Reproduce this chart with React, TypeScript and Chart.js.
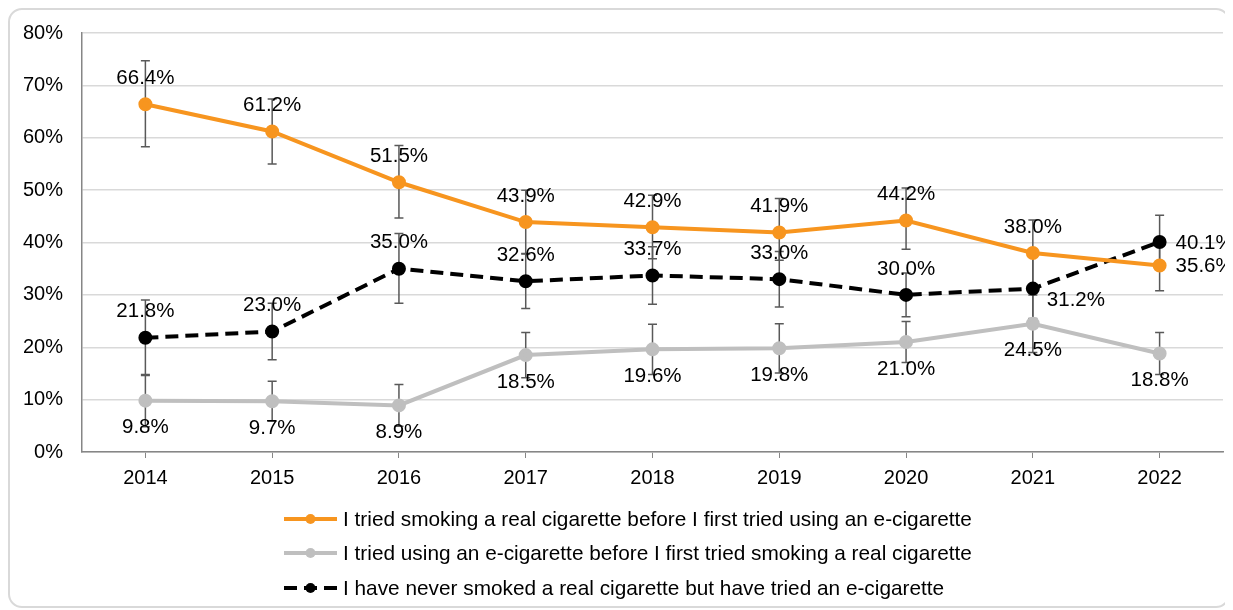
import React, { useEffect, useRef } from "react";
import { Chart, registerables } from "chart.js";

Chart.register(...registerables);

const years = ["2014", "2015", "2016", "2017", "2018", "2019", "2020", "2021", "2022"];

const realFirstLabel = "I tried smoking a real cigarette before I first tried using an e-cigarette";
const realFirst = [66.4, 61.2, 51.5, 43.9, 42.9, 41.9, 44.2, 38.0, 35.6];
const realFirstLow = [58.3, 55.0, 44.7, 37.9, 36.9, 36.6, 38.7, 31.7, 30.8];
const realFirstHigh = [74.7, 67.4, 58.5, 50.0, 49.0, 48.4, 50.4, 44.3, 40.4];
const realFirstPos = ["top", "top", "top", "top", "top", "top", "top", "top", "right"];

const ecigFirstLabel = "I tried using an e-cigarette before I first tried smoking a real cigarette";
const ecigFirst = [9.8, 9.7, 8.9, 18.5, 19.6, 19.8, 21.0, 24.5, 18.8];
const ecigFirstLow = [4.8, 5.9, 4.9, 14.2, 14.8, 15.1, 17.1, 19.0, 14.8];
const ecigFirstHigh = [14.8, 13.5, 12.9, 22.8, 24.4, 24.5, 24.9, 30.0, 22.8];
const ecigFirstPos = ["bottom", "bottom", "bottom", "bottom", "bottom", "bottom", "bottom", "bottom", "bottom"];

const neverLabel = "I have never smoked a real cigarette but have tried an e-cigarette";
const never = [21.8, 23.0, 35.0, 32.6, 33.7, 33.0, 30.0, 31.2, 40.1];
const neverLow = [14.6, 17.6, 28.4, 27.4, 28.2, 27.7, 25.8, 25.5, 35.0];
const neverHigh = [29.0, 28.4, 41.7, 37.8, 39.2, 38.3, 34.2, 37.2, 45.2];
const neverPos = ["top", "top", "top", "top", "top", "top", "top", "rightBelow", "right"];

const yTicks = [0, 10, 20, 30, 40, 50, 60, 70, 80];

const FONT = "'Liberation Sans', Arial, sans-serif";
const ORANGE = "#F7951F";
const GRAY = "#BFBFBF";
const BLACK = "#000000";

const lows = [realFirstLow, ecigFirstLow, neverLow];
const highs = [realFirstHigh, ecigFirstHigh, neverHigh];
const positions = [realFirstPos, ecigFirstPos, neverPos];

const errorBarPlugin = {
  id: "errorBars",
  beforeDatasetsDraw(chart: any) {
    const ctx = chart.ctx;
    const y = chart.scales.y;
    ctx.save();
    ctx.strokeStyle = "#595959";
    ctx.lineWidth = 1.5;
    chart.data.datasets.forEach((ds: any, di: number) => {
      const meta = chart.getDatasetMeta(di);
      meta.data.forEach((pt: any, i: number) => {
        const x = pt.x;
        const y1 = y.getPixelForValue(lows[di][i]);
        const y2 = y.getPixelForValue(highs[di][i]);
        ctx.beginPath();
        ctx.moveTo(x, y1);
        ctx.lineTo(x, y2);
        ctx.moveTo(x - 4.5, y1);
        ctx.lineTo(x + 4.5, y1);
        ctx.moveTo(x - 4.5, y2);
        ctx.lineTo(x + 4.5, y2);
        ctx.stroke();
      });
    });
    ctx.restore();
  },
};

const dataLabelPlugin = {
  id: "dataLabels",
  afterDatasetsDraw(chart: any) {
    const ctx = chart.ctx;
    ctx.save();
    ctx.font = `20.5px ${FONT}`;
    ctx.fillStyle = "#000";
    chart.data.datasets.forEach((ds: any, di: number) => {
      const meta = chart.getDatasetMeta(di);
      meta.data.forEach((pt: any, i: number) => {
        const txt = ds.data[i].toFixed(1) + "%";
        const pos = positions[di][i];
        ctx.textBaseline = "middle";
        if (pos === "top") {
          ctx.textAlign = "center";
          ctx.fillText(txt, pt.x, pt.y - 26);
        } else if (pos === "bottom") {
          ctx.textAlign = "center";
          ctx.fillText(txt, pt.x, pt.y + 27);
        } else if (pos === "right") {
          ctx.textAlign = "left";
          ctx.fillText(txt, pt.x + 16, pt.y + 1);
        } else {
          ctx.textAlign = "left";
          ctx.fillText(txt, pt.x + 14, pt.y + 12);
        }
      });
    });
    ctx.restore();
  },
};

const legendPlugin = {
  id: "customLegend",
  afterDraw(chart: any) {
    const ctx = chart.ctx;
    const rowsY = [509, 543, 578];
    const x0 = 274;
    const x1 = 327;
    ctx.save();
    chart.data.datasets.forEach((ds: any, di: number) => {
      const yy = rowsY[di];
      ctx.strokeStyle = ds.borderColor;
      ctx.lineWidth = 4;
      ctx.setLineDash(ds.borderDash || []);
      ctx.beginPath();
      ctx.moveTo(x0, yy);
      ctx.lineTo(x1, yy);
      ctx.stroke();
      ctx.setLineDash([]);
      ctx.fillStyle = ds.pointBackgroundColor;
      ctx.beginPath();
      ctx.arc((x0 + x1) / 2, yy, 5, 0, Math.PI * 2);
      ctx.fill();
      ctx.fillStyle = "#000";
      ctx.font = `20.8px ${FONT}`;
      ctx.textAlign = "left";
      ctx.textBaseline = "middle";
      ctx.fillText(ds.label, x1 + 6, yy + 1);
    });
    ctx.restore();
  },
};

export default function App() {
  const ref = useRef<HTMLCanvasElement | null>(null);
  useEffect(() => {
    if (!ref.current) return;
    const chart = new Chart(ref.current, {
      type: "line",
      data: {
        labels: years,
        datasets: [
          {
            label: realFirstLabel,
            data: realFirst,
            borderColor: ORANGE,
            backgroundColor: ORANGE,
            pointBackgroundColor: ORANGE,
            pointBorderColor: ORANGE,
            borderWidth: 4,
            pointRadius: 5,
            tension: 0,
          },
          {
            label: ecigFirstLabel,
            data: ecigFirst,
            borderColor: GRAY,
            backgroundColor: GRAY,
            pointBackgroundColor: GRAY,
            pointBorderColor: GRAY,
            borderWidth: 4,
            pointRadius: 5,
            tension: 0,
          },
          {
            label: neverLabel,
            data: never,
            borderColor: BLACK,
            backgroundColor: BLACK,
            pointBackgroundColor: BLACK,
            pointBorderColor: BLACK,
            borderWidth: 4,
            borderDash: [13, 7],
            pointRadius: 5,
            tension: 0,
          },
        ],
      },
      options: {
        responsive: true,
        maintainAspectRatio: false,
        animation: false,
        layout: { autoPadding: false, padding: { left: 10, right: 10, top: 23, bottom: 114 } },
        plugins: {
          legend: { display: false },
          tooltip: { enabled: false },
        },
        scales: {
          x: {
            offset: true,
            grid: {
              display: true,
              drawOnChartArea: false,
              drawTicks: true,
              tickLength: 6,
              color: "#868686",
              offset: false,
            },
            border: { display: true, color: "#868686", width: 1.5 },
            ticks: {
              color: "#000",
              font: { family: FONT, size: 20 },
              padding: 8,
              maxRotation: 0,
            },
            afterFit: (s: any) => {
              s.height = 40;
              s.paddingLeft = 0;
              s.paddingRight = 0;
            },
          },
          y: {
            min: yTicks[0],
            max: yTicks[yTicks.length - 1],
            afterBuildTicks: (s: any) => {
              s.ticks = yTicks.map((v) => ({ value: v }));
            },
            grid: { color: "#D9D9D9", lineWidth: 1.5, drawTicks: false },
            border: { display: true, color: "#868686", width: 1.5 },
            ticks: {
              color: "#000",
              font: { family: FONT, size: 20 },
              padding: 19,
              callback: (v: any) => v + "%",
            },
            afterFit: (s: any) => {
              s.width = 62;
              s.paddingTop = 0;
              s.paddingBottom = 0;
            },
          },
        },
      },
      plugins: [errorBarPlugin, dataLabelPlugin, legendPlugin],
    });
    return () => chart.destroy();
  }, []);

  return (
    <div
      style={{
        width: 1222,
        height: 600,
        border: "2px solid #D9D9D9",
        borderRadius: 14,
        boxSizing: "border-box",
        position: "relative",
        background: "#fff",
      }}
    >
      <div style={{ position: "absolute", left: 0, top: 0, width: 1223, height: 596 }}>
        <canvas ref={ref} />
      </div>
    </div>
  );
}
